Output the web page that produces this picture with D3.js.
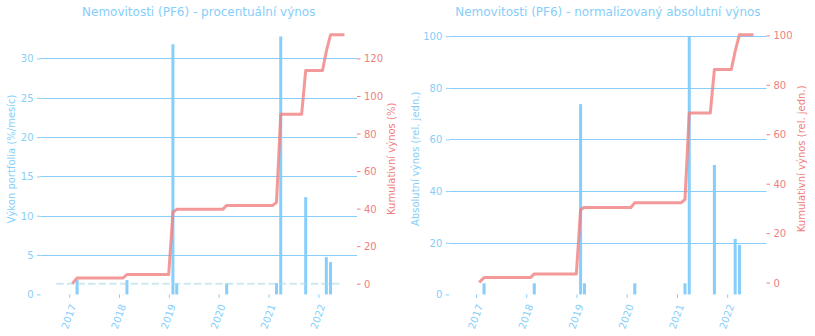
<!DOCTYPE html>
<html><head><meta charset="utf-8">
<script src="https://cdn.jsdelivr.net/npm/d3@7"></script>
<style>
body{margin:0;background:#fff}
svg text{font-family:"DejaVu Sans",sans-serif}
</style>
</head><body>
<svg id="c" width="815" height="336"></svg>
<script>
// ---------- DATA ----------
const months = [
 "2017-01","2017-02","2017-03","2017-04","2017-05","2017-06","2017-07","2017-08","2017-09","2017-10","2017-11","2017-12",
 "2018-01","2018-02","2018-03","2018-04","2018-05","2018-06","2018-07","2018-08","2018-09","2018-10","2018-11","2018-12",
 "2019-01","2019-02","2019-03","2019-04","2019-05","2019-06","2019-07","2019-08","2019-09","2019-10","2019-11","2019-12",
 "2020-01","2020-02","2020-03","2020-04","2020-05","2020-06","2020-07","2020-08","2020-09","2020-10","2020-11","2020-12",
 "2021-01","2021-02","2021-03","2021-04","2021-05","2021-06","2021-07","2021-08","2021-09","2021-10","2021-11","2021-12",
 "2022-01","2022-02","2022-03","2022-04","2022-05","2022-06"];

// cumulative return (%) — left chart, right axis
const cumPct = [
 0.7,
 3.1,3.1,3.1,3.1,3.1,3.1,3.1,3.1,3.1,3.1,3.1,3.1,
 4.9,4.9,4.9,4.9,4.9,4.9,4.9,4.9,4.9,4.9,4.9,
 38.1,
 39.6,39.6,39.6,39.6,39.6,39.6,39.6,39.6,39.6,39.6,39.6,39.6,
 41.7,41.7,41.7,41.7,41.7,41.7,41.7,41.7,41.7,41.7,41.7,41.7,
 43.3,
 90.2,90.2,90.2,90.2,90.2,90.2,
 113.6,113.6,113.6,113.6,113.6,
 123.7,
 132.6,132.6,132.6,132.6];

// cumulative return (rel. units) — right chart, right axis
const cumAbs = [
 0.5,
 2.0,2.0,2.0,2.0,2.0,2.0,2.0,2.0,2.0,2.0,2.0,2.0,
 3.5,3.5,3.5,3.5,3.5,3.5,3.5,3.5,3.5,3.5,3.5,
 29.5,
 30.4,30.4,30.4,30.4,30.4,30.4,30.4,30.4,30.4,30.4,30.4,30.4,
 32.3,32.3,32.3,32.3,32.3,32.3,32.3,32.3,32.3,32.3,32.3,32.3,
 33.6,
 68.6,68.6,68.6,68.6,68.6,68.6,
 86.2,86.2,86.2,86.2,86.2,
 93.6,
 100.3,100.3,100.3,100.3];

// monthly bars (only non-zero months)
const barMonths = ["2017-02","2018-02","2019-01","2019-02","2020-02","2021-02","2021-03","2021-09","2022-02","2022-03"];
const pctBars   = [1.82, 1.82, 31.8, 1.40, 1.40, 1.44, 32.8, 12.36, 4.74, 4.10];
const absBars   = [4.3, 4.3, 73.7, 4.3, 4.3, 4.3, 100, 50.1, 21.5, 19.2];

const yearTicks = [2017, 2018, 2019, 2020, 2021, 2022];
const pctLeftTicks  = [0, 5, 10, 15, 20, 25, 30];
const pctRightTicks = [0, 20, 40, 60, 80, 100, 120];
const absLeftTicks  = [0, 20, 40, 60, 80, 100];
const absRightTicks = [0, 20, 40, 60, 80, 100];

const titles = ["Nemovitosti (PF6) - procentuální výnos", "Nemovitosti (PF6) - normalizovaný absolutní výnos"];
const leftLabels = ["Výkon portfolia (%/mesíc)", "Absolutní výnos (rel. jedn.)"];
const rightLabels = ["Kumulativní výnos (%)", "Kumulativní výnos (rel. jedn.)"];

// ---------- HELPERS ----------
const monthEnd = s => { const d = d3.utcParse("%Y-%m")(s); return d3.utcDay.offset(d3.utcMonth.offset(d, 1), -1); };
const BLUE = "#87CEFA", RED = "#F08080";
const svg = d3.select("#c");

function drawChart(cfg) {
  const g = svg.append("g");
  const top = 23.3, bottom = 294.4;
  const x = d3.scaleUtc()
    .domain([Date.UTC(2017,0,1), Date.UTC(2022,0,1)])
    .range([cfg.t17, cfg.t22]);
  const yL = d3.scaleLinear().domain(cfg.yLDom).range([bottom, top]);
  const yR = d3.scaleLinear().domain(cfg.yRDom).range([bottom, top]);

  // gridlines
  g.append("g").selectAll("line").data(cfg.lTicks.filter(t => t !== 0)).join("line")
    .attr("x1", cfg.L).attr("x2", cfg.R)
    .attr("y1", d => Math.round(yL(d)) + 0.5).attr("y2", d => Math.round(yL(d)) + 0.5)
    .attr("stroke", BLUE).attr("stroke-width", 1);

  // bars
  const half = 11;
  g.append("g").selectAll("rect").data(cfg.barMonths.map((m, i) => ({d: monthEnd(m), v: cfg.bars[i]}))).join("rect")
    .attr("x", d => x(d3.utcDay.offset(d.d, -half)))
    .attr("width", d => x(d3.utcDay.offset(d.d, half)) - x(d3.utcDay.offset(d.d, -half)))
    .attr("y", d => yL(d.v))
    .attr("height", d => yL(0) - yL(d.v))
    .attr("fill", BLUE);

  // zero reference line on right axis
  if (cfg.zeroLine) {
    const W = cfg.R - cfg.L;
    g.append("line")
      .attr("x1", cfg.L + 0.05 * W).attr("x2", cfg.L + 0.95 * W)
      .attr("y1", yR(0)).attr("y2", yR(0))
      .attr("stroke", "#ADD8E6").attr("stroke-opacity", 0.6)
      .attr("stroke-width", 2).attr("stroke-dasharray", "7.4,3.2");
  }

  // cumulative line
  const line = d3.line().x((d, i) => x(monthEnd(months[i]))).y(d => yR(d));
  g.append("path").datum(cfg.cum)
    .attr("d", line)
    .attr("fill", "none").attr("stroke", RED).attr("stroke-opacity", 0.8)
    .attr("stroke-width", 3).attr("stroke-linejoin", "round").attr("stroke-linecap", "square");

  // left axis
  const aL = g.append("g").attr("transform", `translate(${cfg.L},0)`)
    .call(d3.axisLeft(yL).tickValues(cfg.lTicks).tickSize(3.5).tickPadding(3.5));
  aL.select(".domain").remove();
  aL.selectAll("line").attr("stroke", BLUE);
  aL.selectAll("text").attr("fill", BLUE).attr("font-size", 10).attr("font-family", "DejaVu Sans")
    .attr("dy", null).attr("dominant-baseline", "central");

  // right axis
  const aR = g.append("g").attr("transform", `translate(${cfg.R},0)`)
    .call(d3.axisRight(yR).tickValues(cfg.rTicks).tickSize(3.5).tickPadding(3.5));
  aR.select(".domain").remove();
  aR.selectAll("line").attr("stroke", RED);
  aR.selectAll("text").attr("fill", RED).attr("font-size", 10).attr("font-family", "DejaVu Sans")
    .attr("dy", null).attr("dominant-baseline", "central");

  // bottom axis
  const aB = g.append("g").attr("transform", `translate(0,${bottom})`)
    .call(d3.axisBottom(x).tickValues(yearTicks.map(y => new Date(Date.UTC(y,0,1))))
      .tickFormat(d3.utcFormat("%Y")).tickSize(3.5).tickPadding(3.5));
  aB.select(".domain").remove();
  aB.selectAll("line").attr("stroke", BLUE);
  aB.selectAll("text").attr("fill", BLUE).attr("font-size", 10).attr("font-family", "DejaVu Sans")
    .attr("y", null).attr("dy", null).attr("text-anchor", "middle").attr("dominant-baseline", "central")
    .attr("transform", "translate(-1,22.2) rotate(-70)");

  // title
  g.append("text").attr("x", (cfg.L + cfg.R) / 2).attr("y", 16)
    .attr("text-anchor", "middle").attr("fill", BLUE).attr("font-size", 12).text(cfg.title);

  // axis labels
  const midY = (top + bottom) / 2;
  g.append("text").attr("transform", `translate(${cfg.lLabX},${midY}) rotate(-90)`)
    .attr("text-anchor", "middle").attr("dominant-baseline", "central")
    .attr("fill", BLUE).attr("font-size", 10).text(cfg.lLabel);
  g.append("text").attr("transform", `translate(${cfg.rLabX},${midY}) rotate(-90)`)
    .attr("text-anchor", "middle").attr("dominant-baseline", "central")
    .attr("fill", RED).attr("font-size", 10).text(cfg.rLabel);
}

drawChart({
  L: 40.5, R: 357, t17: 69.2, t22: 318.4,
  yLDom: [0, 34.47], yRDom: [-5.7, 138.7],
  lTicks: pctLeftTicks, rTicks: pctRightTicks,
  barMonths: barMonths, bars: pctBars, cum: cumPct, zeroLine: true,
  title: titles[0], lLabel: leftLabels[0], rLabel: rightLabels[0],
  lLabX: 11.5, rLabX: 391.5
});
drawChart({
  L: 449.3, R: 766.5, t17: 476.1, t22: 727.2,
  yLDom: [0, 105], yRDom: [-4.8, 104.9],
  lTicks: absLeftTicks, rTicks: absRightTicks,
  barMonths: barMonths, bars: absBars, cum: cumAbs, zeroLine: false,
  title: titles[1], lLabel: leftLabels[1], rLabel: rightLabels[1],
  lLabX: 415.8, rLabX: 801
});
</script>
</body></html>
